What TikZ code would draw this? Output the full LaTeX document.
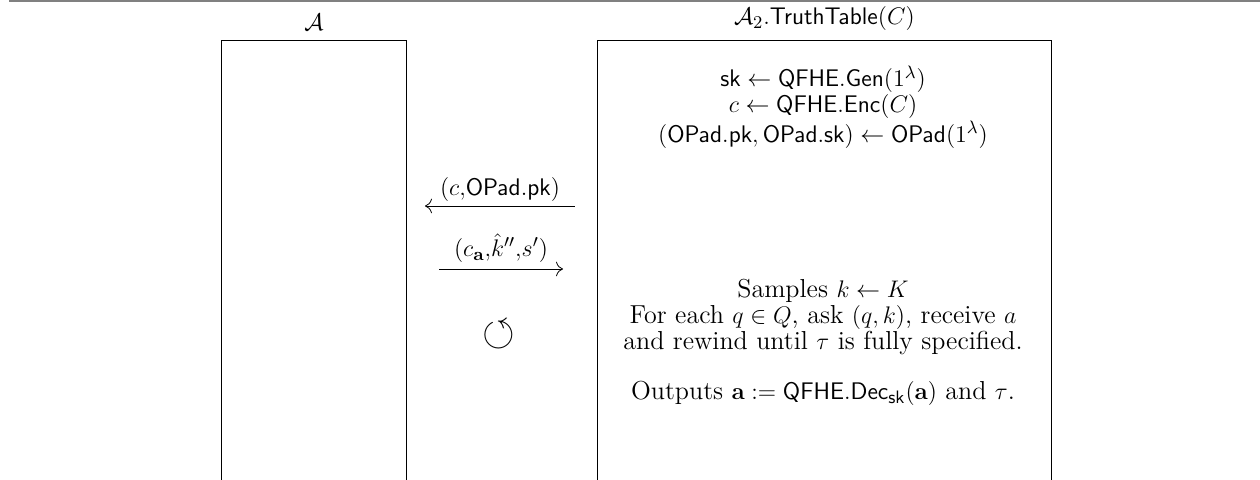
\documentclass[tikz,border=0pt]{standalone}
\usepackage{amsmath,amssymb}
\usetikzlibrary{positioning,arrows.meta}
\newcommand{\QFHE}{\mathsf{QFHE}}
\newcommand{\OPad}{\mathsf{OPad}}
\begin{document}
\begin{tikzpicture}[x=0.5pt,y=-0.5pt,>={To[scale=1.4]},
	every node/.style={font=\fontsize{13}{13}\selectfont},
	party/.style={draw,anchor=north west,minimum height=222pt,inner sep=0pt},
	msg/.style={above,inner sep=2pt}]
	\useasboundingbox (0,0) rectangle (1260,480);
	\draw[gray,line width=1.2pt] (9,1) -- (1260,1);
	% the two parties
	\node[party,minimum width=92.5pt] (adv) at (221,40) {};
	\node[party,minimum width=227pt] (ext) at (597,40) {};
	\node[above=1pt of adv] (advname) {$\mathcal{A}$};
	\node[above=1pt of ext] (extname) {$\mathcal{A}_2.\mathsf{TruthTable}(C)$};
	% what the extractor does
	\node[align=center] (setup) at (823,107) {$\mathsf{sk} \leftarrow \QFHE.\mathsf{Gen}(1^\lambda)$\\
		$c \leftarrow \QFHE.\mathsf{Enc}(C)$\\
		$(\OPad.\mathsf{pk}, \OPad.\mathsf{sk}) \leftarrow \OPad(1^\lambda)$};
	\node[align=center] (run) at (823,342) {Samples $k \leftarrow K$\\
		For each $q \in Q$, ask $(q,k)$, receive $a$\\
		and rewind until $\tau$ is fully specified.\\[12pt]
		Outputs $\mathbf{a} := \QFHE.\mathsf{Dec}_{\mathsf{sk}}(\mathbf{a})$ and $\tau$.};
	% messages
	\coordinate (m1l) at (425,206);
	\coordinate (m1r) at (575,206);
	\coordinate (m2l) at (439,269);
	\coordinate (m2r) at (563,269);
	\draw[<-] (m1l) -- (m1r) node[msg,midway] {$(c{,}\OPad.\mathsf{pk})$};
	\draw[->] (m2l) -- (m2r) node[msg,midway,inner sep=3pt] {$(c_{\mathbf{a}}{,}\hat{k}''{,}s')$};
	\node (rewind) at (499,335) {\fontsize{21}{21}\selectfont$\circlearrowleft$};
\end{tikzpicture}
\end{document}
